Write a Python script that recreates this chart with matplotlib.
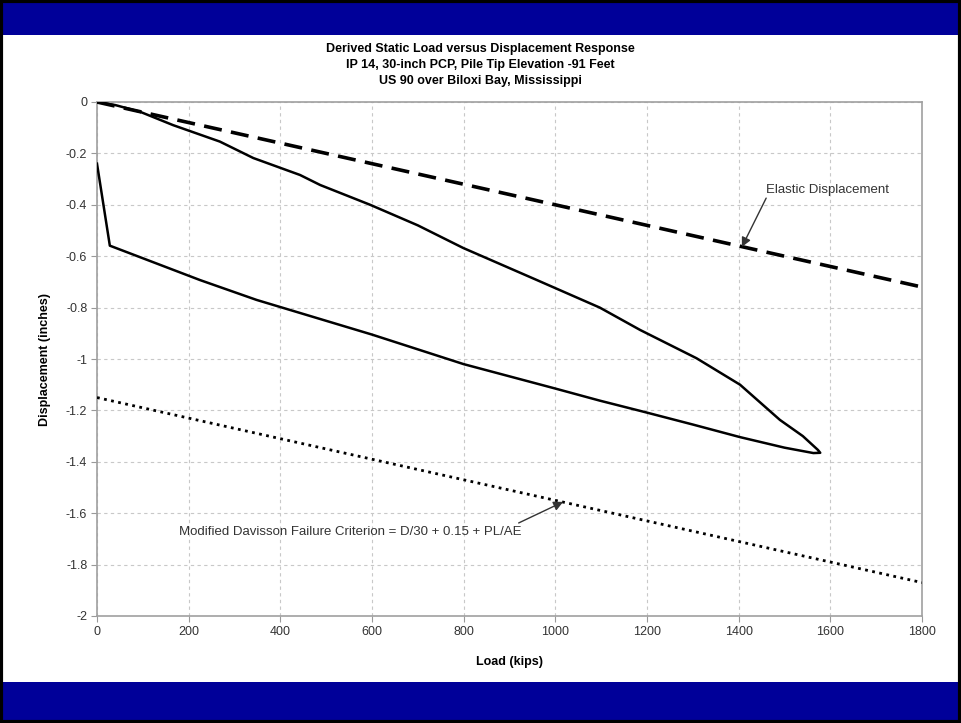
import matplotlib.pyplot as plt
import numpy as np
from matplotlib.patches import Rectangle

plt.rcParams['font.family'] = ['Liberation Sans', 'DejaVu Sans']

# Courbe charge-déplacement (boucle chargement / déchargement)
load_kips = [0, 40, 94, 166, 268, 341, 443, 487, 596, 700, 799, 960, 1097, 1185, 1308,
             1403, 1490, 1540, 1573, 1578, 1563, 1500, 1403, 1300, 1192, 1097, 1000,
             800, 600, 348, 225, 28, 0]
disp_in = [0, -0.012, -0.038, -0.09, -0.154, -0.218, -0.284, -0.323, -0.40, -0.48,
           -0.568, -0.693, -0.80, -0.887, -0.997, -1.10, -1.237, -1.30, -1.354, -1.365,
           -1.366, -1.345, -1.304, -1.255, -1.205, -1.162, -1.115, -1.02, -0.905,
           -0.77, -0.693, -0.559, -0.24]

# Déplacement élastique
elastic_load = [0, 1800]
elastic_disp = [0, -0.72]

# Critère de Davisson modifié
davisson_load = [0, 1800]
davisson_disp = [-1.15, -1.87]

x_ticks = [0, 200, 400, 600, 800, 1000, 1200, 1400, 1600, 1800]
y_ticks = [0, -0.2, -0.4, -0.6, -0.8, -1, -1.2, -1.4, -1.6, -1.8, -2]
y_tick_labels = ['0', '-0.2', '-0.4', '-0.6', '-0.8', '-1', '-1.2', '-1.4', '-1.6', '-1.8', '-2']

fig = plt.figure(figsize=(9.61, 7.23), dpi=100)
fig.patch.set_facecolor('white')

# bandeaux bleus + bordure
fig.patches.append(Rectangle((0, 1 - 35 / 723), 1, 35 / 723, transform=fig.transFigure,
                             facecolor='#000099', edgecolor='none', zorder=0))
fig.patches.append(Rectangle((0, 0), 1, 41 / 723, transform=fig.transFigure,
                             facecolor='#000099', edgecolor='none', zorder=0))
fig.patches.append(Rectangle((0.0015, 0.002), 0.997, 0.996, transform=fig.transFigure,
                             facecolor='none', edgecolor='black', linewidth=3, zorder=5))

ax = fig.add_axes([97 / 961, 1 - 616 / 723, 825 / 961, 514 / 723])

ax.plot(elastic_load, elastic_disp, color='black', linewidth=2.6, linestyle=(0, (5, 2.6)),
        zorder=3)
ax.plot(davisson_load, davisson_disp, color='black', linewidth=2.0, linestyle=(0, (1, 1.6)),
        zorder=3)
ax.plot(load_kips, disp_in, color='black', linewidth=1.8, zorder=4)

ax.set_xlim(0, 1800)
ax.set_ylim(-2, 0)
ax.set_xticks(x_ticks)
ax.set_yticks(y_ticks)
ax.set_yticklabels(y_tick_labels)
ax.tick_params(direction='out', length=4, color='#999999', labelsize=9, labelcolor='#333333',
               pad=3)
ax.grid(True, color='#c8c8c8', linestyle=(0, (3, 3)), linewidth=0.8)
ax.set_axisbelow(True)
for s in ax.spines.values():
    s.set_color('#a0a0a0')
    s.set_linewidth(1.2)

ax.set_xlabel('Load (kips)', fontsize=9, fontweight='bold', labelpad=13)
ax.set_ylabel('Displacement (inches)', fontsize=9, fontweight='bold', labelpad=11)

fig.text(0.5, 1 - 43 / 723,
         'Derived Static Load versus Displacement Response\n'
         'IP 14, 30-inch PCP, Pile Tip Elevation -91 Feet\n'
         'US 90 over Biloxi Bay, Mississippi',
         ha='center', va='top', fontsize=9, fontweight='bold', linespacing=1.45)

arrow = dict(arrowstyle='-|>', color='#333333', lw=1.0, mutation_scale=14,
             shrinkA=0, shrinkB=0)

ax.text(1460, -0.342, 'Elastic Displacement', fontsize=9.5, color='#333333',
        ha='left', va='center')
ax.annotate('', xy=(1407, -0.564), xytext=(1460, -0.374), arrowprops=arrow)

ax.text(927, -1.673, 'Modified Davisson Failure Criterion = D/30 + 0.15 + PL/AE',
        fontsize=9.5, color='#333333', ha='right', va='center')
ax.annotate('', xy=(1017, -1.556), xytext=(920, -1.638), arrowprops=arrow)

fig.savefig('out.png', dpi=100)
